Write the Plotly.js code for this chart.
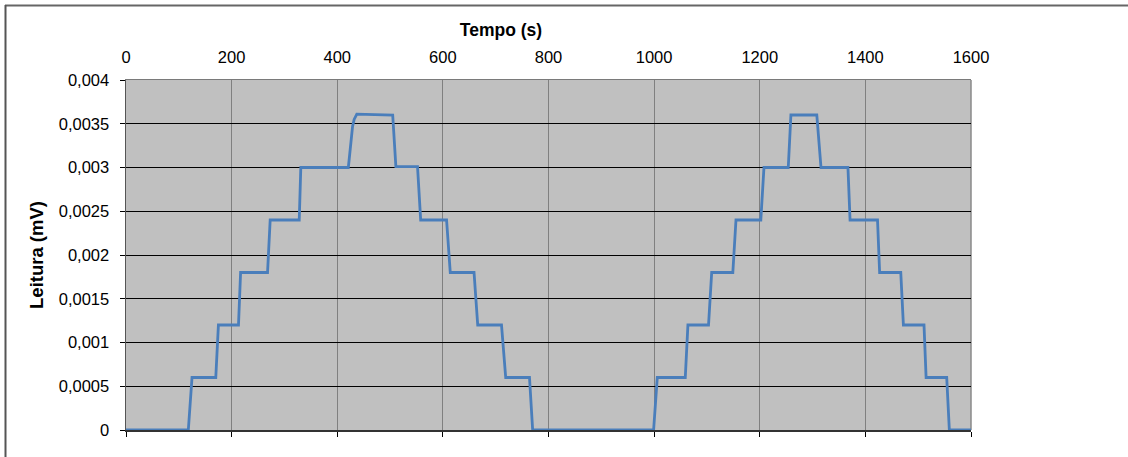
<!DOCTYPE html>
<html>
<head>
<meta charset="utf-8">
<script src="https://cdn.plot.ly/plotly-3.0.1.min.js"></script>
<style>html,body{margin:0;padding:0;background:#fff;overflow:hidden;}#chart{width:1128px;height:457px;}</style>
</head>
<body>
<div id="chart"></div>
<script>
// Data
const timeS = [0, 118, 125, 170, 175, 213, 217, 268, 273, 328, 331, 421, 429, 432, 437, 505, 511, 552, 558, 607, 614, 659, 666, 711, 719, 764, 770, 999, 1006, 1059, 1064, 1103, 1109, 1149, 1155, 1202, 1208, 1254, 1259, 1308, 1316, 1367, 1371, 1423, 1427, 1467, 1472, 1511, 1515, 1554, 1559, 1600];
const readingMV = [0, 0, 0.0006, 0.0006, 0.0012, 0.0012, 0.0018, 0.0018, 0.0024, 0.0024, 0.003, 0.003, 0.00347, 0.00355, 0.00361, 0.0036, 0.00301, 0.00301, 0.0024, 0.0024, 0.0018, 0.0018, 0.0012, 0.0012, 0.0006, 0.0006, 0, 0, 0.0006, 0.0006, 0.0012, 0.0012, 0.0018, 0.0018, 0.0024, 0.0024, 0.003, 0.003, 0.0036, 0.0036, 0.003, 0.003, 0.0024, 0.0024, 0.0018, 0.0018, 0.0012, 0.0012, 0.0006, 0.0006, 0, 0];

const xTickVals = [0, 200, 400, 600, 800, 1000, 1200, 1400, 1600];
const xTickText = ['0', '200', '400', '600', '800', '1000', '1200', '1400', '1600'];
const yTickVals = [0, 0.0005, 0.001, 0.0015, 0.002, 0.0025, 0.003, 0.0035, 0.004];
const yTickText = ['0', '0,0005', '0,001', '0,0015', '0,002', '0,0025', '0,003', '0,0035', '0,004'];

const xTitle = 'Tempo (s)';
const yTitle = 'Leitura (mV)';

const FONT = 'Liberation Sans, Arial, sans-serif';
const TICK = 16.5;

const traces = [
  {
    x: timeS, y: readingMV, type: 'scatter', mode: 'lines',
    xaxis: 'x', yaxis: 'y',
    line: {color: '#4A7EBB', width: 2.8},
    hoverinfo: 'x+y', showlegend: false
  },
  {
    // invisible companion trace so the bottom tick axis is drawn
    x: timeS, y: readingMV, type: 'scatter', mode: 'lines',
    xaxis: 'x2', yaxis: 'y',
    line: {color: 'rgba(0,0,0,0)', width: 0},
    hoverinfo: 'skip', showlegend: false
  }
];

const px2x = p => (p - 126) / 845;
const py2y = p => (430 - p) / 350;

const layout = {
  width: 1128, height: 457,
  paper_bgcolor: '#ffffff',
  plot_bgcolor: '#C0C0C0',
  margin: {l: 126, r: 157, t: 80, b: 27, autoexpand: false},
  font: {family: FONT, size: TICK, color: '#000'},
  title: {
    text: xTitle,
    font: {family: FONT, size: 17.5, weight: 'bold', color: '#000'},
    x: 501 / 1128, xanchor: 'center', xref: 'container',
    y: 1 - 29.5 / 457, yanchor: 'middle', yref: 'container'
  },
  xaxis: {
    range: [0, 1600], side: 'top', anchor: 'y',
    tickmode: 'array', tickvals: xTickVals, ticktext: xTickText,
    ticks: '', ticklabelstandoff: 9,
    showgrid: true, gridcolor: '#808080', gridwidth: 1,
    zeroline: false, showline: true, linecolor: '#7a7a7a', linewidth: 1.5,
    layer: 'below traces',
    tickfont: {family: FONT, size: TICK, color: '#000'},
    fixedrange: true
  },
  xaxis2: {
    range: [0, 1600], side: 'bottom', overlaying: 'x', anchor: 'y',
    tickmode: 'array', tickvals: xTickVals,
    ticks: 'outside', ticklen: 5, tickcolor: '#000', tickwidth: 1,
    showticklabels: false, showgrid: false, zeroline: false,
    showline: true, linecolor: '#333', linewidth: 1.5,
    layer: 'below traces',
    fixedrange: true
  },
  yaxis: {
    range: [0, 0.004],
    tickmode: 'array', tickvals: yTickVals, ticktext: yTickText,
    ticks: 'outside', ticklen: 5, tickcolor: '#000', tickwidth: 1,
    ticklabelstandoff: 7,
    showgrid: true, gridcolor: '#000', gridwidth: 1,
    zeroline: false, showline: true, linecolor: '#555', linewidth: 1.5,
    layer: 'below traces',
    tickfont: {family: FONT, size: TICK, color: '#000'},
    title: {text: yTitle, font: {family: FONT, size: 18.5, weight: 'bold', color: '#000'}, standoff: 10},
    fixedrange: true
  },
  shapes: [
    // right border of plot area
    {type: 'line', xref: 'paper', yref: 'paper', x0: 1, x1: 1, y0: 0, y1: 1,
     line: {color: '#8a8a8a', width: 1.5}, layer: 'below'},
    // outer chart frame: top and left edges (right and bottom are cut off)
    {type: 'line', xref: 'paper', yref: 'paper',
     x0: px2x(5), x1: px2x(1128), y0: py2y(5.5), y1: py2y(5.5),
     line: {color: '#666', width: 2}, layer: 'above'},
    {type: 'line', xref: 'paper', yref: 'paper',
     x0: px2x(5.5), x1: px2x(5.5), y0: py2y(5), y1: py2y(457),
     line: {color: '#555', width: 2}, layer: 'above'}
  ],
  showlegend: false
};

Plotly.newPlot('chart', traces, layout, {displayModeBar: false, staticPlot: true});
</script>
</body>
</html>
